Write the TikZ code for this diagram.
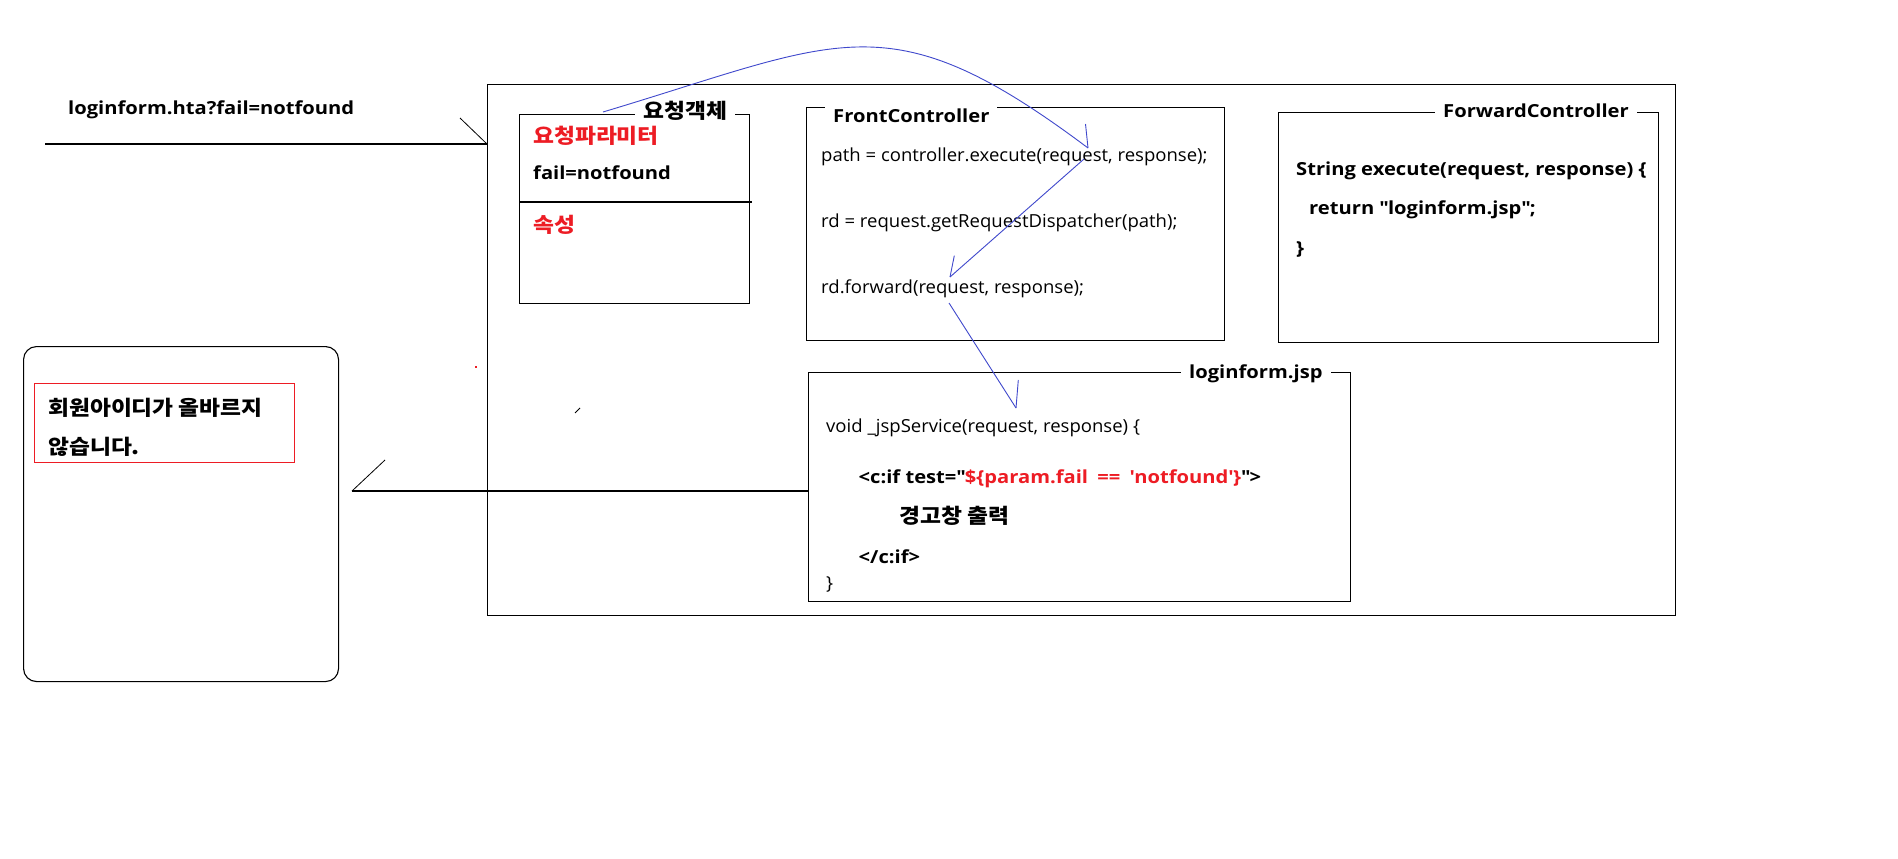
\documentclass[tikz,border=0pt]{standalone}
\usepackage{fontspec}
\setmainfont{Open Sans}
\newfontfamily\latbf{Open Sans}[FakeStretch=1.12]
\newfontfamily\latrg{Open Sans}[FakeStretch=1.03]
\newfontfamily\krfont{Noto Sans CJK KR}[FakeStretch=1.11]
\definecolor{paintred}{RGB}{237,28,36}
\definecolor{paintblue}{RGB}{63,72,204}

\tikzset{
  frame/.style={draw=black, line width=1.1pt, inner sep=0pt, anchor=north west},
  thinline/.style={draw=black, line width=0.8pt},
  flow/.style={draw=paintblue, line width=0.9pt},
  latb/.style={inner sep=0pt, anchor=base west, font=\fontsize{18}{22}\selectfont\latbf\bfseries},
  latr/.style={inner sep=0pt, anchor=base west, font=\fontsize{18}{22}\selectfont\latrg},
  krb/.style={inner sep=0pt, anchor=base west, font=\fontsize{20.5}{24}\selectfont\krfont\bfseries},
  ttl/.style={fill=white, inner xsep=8pt, inner ysep=0pt, text height=16pt, text depth=5pt},
}

\begin{document}
\begin{tikzpicture}[x=1pt,y=-1pt]
\useasboundingbox[fill=white] (0,0) rectangle (1898,859);

% containers
\node[frame, minimum width=1188, minimum height=531] (outer) at (487,84) {};
\node[frame, minimum width=230, minimum height=189] (req) at (519,114) {};
\node[frame, minimum width=418, minimum height=233] (fc) at (806,107) {};
\node[frame, minimum width=380, minimum height=230] (fwd) at (1278,112) {};
\node[frame, minimum width=542, minimum height=229] (jsp) at (808,372) {};
\node[frame, rounded corners=13pt, minimum width=315, minimum height=335] (alert) at (23,346) {};
\node[frame, draw=paintred, line width=0.9pt, minimum width=260, minimum height=79] (msg) at (34,383) {};

% divider between parameters and attributes
\draw[draw=black, line width=1.1pt] (req.west |- 0,202) -- (752,202);

% titles sitting on the top edges
\node[krb, ttl] (reqT) at (635,118) {요청객체};
\node[latb, ttl] (fcT) at (825,122) {FrontController};
\node[latb, ttl] (fwdT) at (1435,117) {ForwardController};
\node[latb, ttl] (jspT) at (1181,378) {loginform.jsp};

% request object
\node[krb, text=paintred] (params) at (533,143) {요청파라미터};
\node[latb] (failv) at (533,179) {fail=notfound};
\node[krb, text=paintred] (attrs) at (533,232) {속성};

% FrontController
\node[latr] (l1) at (821,161) {path = controller.execute(request, response);};
\node[latr] (l2) at (821,227) {rd = request.getRequestDispatcher(path);};
\node[latr] (l3) at (821,293) {rd.forward(request, response);};

% ForwardController
\node[latb] (f1) at (1296,175) {String execute(request, response) \{};
\node[latb] (f2) at (1309,214) {return \textquotedbl loginform.jsp\textquotedbl;};
\node[latb] (f3) at (1296,254) {\}};

% loginform.jsp
\node[latr] (j1) at (826,432) {void \_jspService(request, response) \{};
\node[latb] (j2) at (858.5,483) {<c:if test=\textquotedbl\textcolor{paintred}{\$\{param.fail\hspace{4pt} ==\hspace{4pt} \textquotesingle notfound\textquotesingle\}}\textquotedbl>};
\node[krb] (j3) at (899,523) {경고창 출력};
\node[latb] (j4) at (858.5,563) {</c:if>};
\node[latr] (j5) at (826,589) {\}};

% alert window
\node[krb] (m1) at (48,415) {회원아이디가 올바르지};
\node[krb] (m2) at (48,454) {않습니다.};

% incoming request
\node[latb] (hta) at (68,114) {loginform.hta?fail=notfound};
\coordinate (src) at (45,144);
\draw[draw=black, line width=1.1pt] (src) -- (outer.west |- src);
\draw[thinline] (460,118) -- (outer.west |- src);

% response back to the browser
\coordinate (back) at (352,491);
\draw[draw=black, line width=1.1pt] (jsp.west |- back) -- (back);
\draw[thinline] (back) -- (385,460);

% flow of the call
\coordinate (reqTop) at (603,112);
\coordinate (tipA) at (1088,148);
\coordinate (startB) at (1084,159);
\coordinate (tipB) at (950,277);
\coordinate (startC) at (949,303);
\coordinate (tipC) at (1016,408);
\draw[flow] (reqTop) .. controls (842,40.5) and (888,-2) .. (tipA);
\draw[flow] (tipA) -- (1085.5,124);
\draw[flow] (startB) -- (tipB);
\draw[flow] (tipB) -- (954.3,255.7);
\draw[flow] (startC) -- (tipC);
\draw[flow] (tipC) -- (1018.3,380);

% stray marks
\fill[paintred] (475,365.5) rectangle (477,367.5);
\draw[thinline] (575,413) -- (580,408);
\end{tikzpicture}
\end{document}
